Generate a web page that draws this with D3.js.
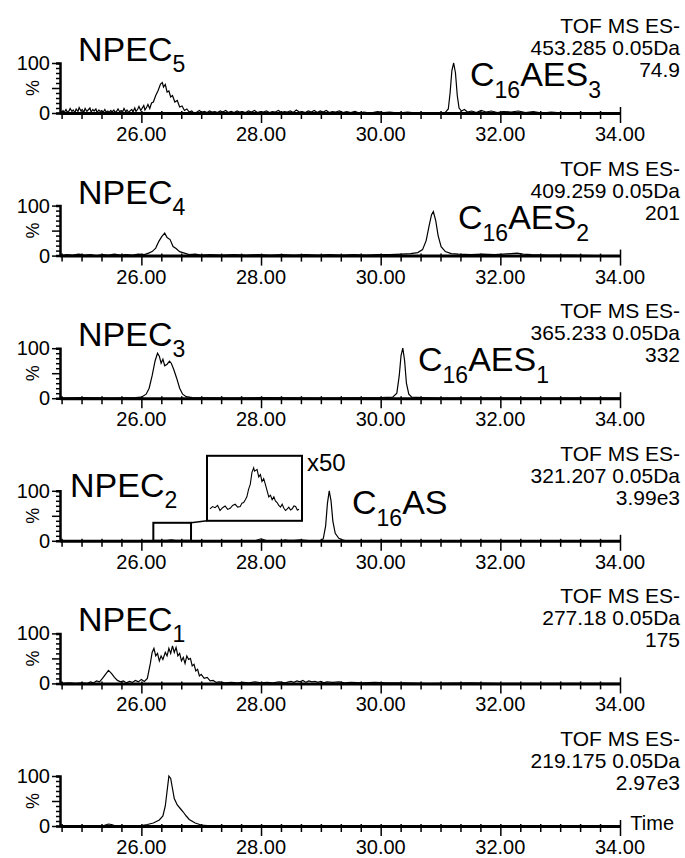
<!DOCTYPE html>
<html>
<head>
<meta charset="utf-8">
<script src="https://cdn.jsdelivr.net/npm/d3@7"></script>
<style>
  body { margin: 0; background: #fff; }
  svg { display: block; }
  text { font-family: "Liberation Sans", Arial, sans-serif; fill: #000; }
</style>
</head>
<body>
<svg id="chart" width="685" height="858"></svg>
<script>
// tick labels on every time axis
const xTickLabels = ["26.00", "28.00", "30.00", "32.00", "34.00"];
const xTickValues = [26, 28, 30, 32, 34];

// header text per trace
const masses = ["453.285", "409.259", "365.233", "321.207", "277.18", "219.175"];
const maxIntensity = ["74.9", "201", "332", "3.99e3", "175", "2.97e3"];

// peak labels
const npecSubs = ["5", "4", "3", "2", "1", null];
const cLabels = [["16", "AES", "3"], ["16", "AES", "2"], ["16", "AES", "1"], ["16", "AS", ""], null, null];

// traces: [time (min), relative intensity %]
const trace1 = [[24.66,0],[24.69,5],[24.71,1],[24.74,7],[24.76,2],[24.79,4],[24.81,9],[24.84,3],[24.86,6],[24.89,1],[24.91,8],[24.94,3],[24.96,11],[24.99,4],[25.01,7],[25.04,2],[25.06,9],[25.09,3],[25.11,6],[25.14,10],[25.16,2],[25.19,7],[25.21,4],[25.24,8],[25.26,1],[25.29,6],[25.31,3],[25.34,5],[25.36,1],[25.39,7],[25.41,2],[25.44,4],[25.46,1],[25.49,5],[25.51,2],[25.54,6],[25.56,1],[25.59,4],[25.61,8],[25.64,2],[25.66,5],[25.69,3],[25.71,9],[25.74,2],[25.76,6],[25.79,1],[25.81,4],[25.84,7],[25.86,2],[25.89,10],[25.91,3],[25.94,8],[25.96,13],[25.99,5],[26.01,9],[26.04,15],[26.06,6],[26.09,12],[26.11,17],[26.14,9],[26.17,20],[26.20,22],[26.24,35],[26.28,45],[26.32,58],[26.35,61],[26.37,52],[26.40,57],[26.43,42],[26.46,44],[26.49,32],[26.52,35],[26.56,22],[26.60,25],[26.64,12],[26.68,14],[26.72,5],[26.76,8],[26.80,2],[26.84,4],[26.88,0],[26.93,2],[26.97,5],[27.01,1],[27.05,3],[27.10,1],[27.14,4],[27.18,2],[27.23,3],[27.27,1],[27.32,4],[27.36,2],[27.41,5],[27.45,1],[27.50,3],[27.55,1],[27.60,4],[27.64,2],[27.69,3],[27.74,1],[27.79,4],[27.84,2],[27.89,5],[27.94,1],[27.99,3],[28.04,2],[28.09,4],[28.14,1],[28.19,3],[28.24,2],[28.29,5],[28.34,1],[28.39,3],[28.44,2],[28.49,4],[28.54,1],[28.59,6],[28.64,2],[28.69,3],[28.74,1],[28.79,4],[28.84,2],[28.89,5],[28.94,1],[28.99,4],[29.04,2],[29.09,5],[29.14,1],[29.19,3],[29.25,2],[29.31,4],[29.37,1],[29.43,3],[29.50,1],[29.57,3],[29.64,0],[29.72,2],[29.82,0],[29.95,3],[30.05,1],[30.15,2],[30.30,0],[30.45,2],[30.60,0],[30.80,1],[30.95,0],[31.08,1],[31.13,8],[31.16,40],[31.19,85],[31.22,100],[31.25,80],[31.28,35],[31.31,10],[31.35,4],[31.40,7],[31.45,2],[31.52,4],[31.60,1],[31.68,5],[31.76,2],[31.85,4],[31.95,1],[32.05,3],[32.18,2],[32.30,4],[32.42,1],[32.55,3],[32.70,0],[32.85,2],[33.05,0],[33.30,1],[33.60,0],[34.00,0]];
const trace2 = [[24.66,0],[24.75,2],[24.85,1],[24.95,3],[25.05,1],[25.15,2],[25.25,0],[25.35,2],[25.45,1],[25.55,3],[25.65,1],[25.75,2],[25.85,1],[25.95,3],[26.05,2],[26.12,5],[26.18,8],[26.24,15],[26.29,28],[26.34,38],[26.39,45],[26.43,36],[26.48,32],[26.53,18],[26.58,14],[26.64,8],[26.72,5],[26.80,2],[26.90,3],[27.00,1],[27.15,2],[27.35,1],[27.55,2],[27.75,1],[27.95,2],[28.15,1],[28.35,2],[28.55,1],[28.75,2],[28.95,1],[29.15,2],[29.35,1],[29.55,2],[29.75,1],[29.95,2],[30.15,2],[30.35,3],[30.50,4],[30.62,6],[30.70,12],[30.76,30],[30.81,60],[30.85,82],[30.88,88],[30.92,70],[30.96,40],[31.01,18],[31.08,8],[31.18,4],[31.30,3],[31.50,2],[31.70,3],[31.90,2],[32.05,3],[32.18,4],[32.28,5],[32.38,3],[32.52,2],[32.80,1],[33.20,1],[33.60,0],[34.00,0]];
const trace3 = [[24.66,0],[25.00,1],[25.50,0],[25.90,1],[26.00,2],[26.08,8],[26.13,20],[26.18,45],[26.23,75],[26.27,90],[26.30,84],[26.33,70],[26.36,78],[26.39,65],[26.43,68],[26.47,74],[26.50,70],[26.54,58],[26.59,40],[26.64,20],[26.69,8],[26.75,3],[26.85,1],[27.50,0],[28.00,1],[29.00,0],[30.00,1],[30.20,2],[30.27,10],[30.31,45],[30.34,85],[30.37,100],[30.40,75],[30.43,30],[30.47,8],[30.52,2],[30.70,1],[31.00,0],[34.00,0]];
const trace4 = [[24.66,0],[26.40,0],[26.45,1],[26.50,2],[26.55,1],[26.60,0],[27.90,0],[27.95,2],[28.00,4],[28.05,2],[28.10,0],[28.35,0],[28.40,2],[28.45,1],[28.55,1],[28.65,2],[28.75,1],[28.85,0],[29.00,0],[29.04,4],[29.08,30],[29.11,75],[29.14,100],[29.17,80],[29.20,40],[29.24,15],[29.30,5],[29.36,2],[29.42,0],[34.00,0]];
const trace5 = [[24.66,0],[24.80,1],[24.90,0],[25.00,1],[25.10,0],[25.15,3],[25.20,1],[25.25,5],[25.30,3],[25.35,10],[25.40,18],[25.45,26],[25.50,20],[25.55,12],[25.60,6],[25.65,3],[25.70,5],[25.75,1],[25.80,4],[25.85,2],[25.90,6],[25.95,3],[26.00,8],[26.05,4],[26.10,10],[26.15,40],[26.18,62],[26.21,70],[26.24,55],[26.27,60],[26.30,45],[26.33,55],[26.36,48],[26.40,62],[26.43,55],[26.46,70],[26.49,60],[26.52,75],[26.55,62],[26.58,72],[26.61,55],[26.64,60],[26.67,45],[26.70,52],[26.73,40],[26.76,55],[26.79,48],[26.82,50],[26.85,35],[26.88,38],[26.91,25],[26.94,28],[26.97,15],[27.00,18],[27.05,10],[27.10,12],[27.15,5],[27.20,6],[27.25,2],[27.30,3],[27.40,1],[27.50,2],[27.60,1],[27.70,2],[27.80,1],[27.90,3],[28.00,1],[28.10,2],[28.20,1],[28.30,3],[28.40,1],[28.50,4],[28.55,2],[28.60,5],[28.65,3],[28.70,6],[28.75,2],[28.80,5],[28.85,3],[28.90,4],[28.95,2],[29.00,4],[29.05,1],[29.10,3],[29.20,2],[29.30,3],[29.40,1],[29.50,2],[29.70,1],[29.90,2],[30.10,1],[30.40,1],[30.80,0],[31.50,1],[32.00,0],[34.00,0]];
const trace6 = [[24.66,0],[25.35,0],[25.40,2],[25.45,4],[25.50,3],[25.55,1],[25.60,0],[25.90,0],[26.00,1],[26.10,3],[26.20,6],[26.30,12],[26.36,20],[26.40,40],[26.43,70],[26.46,100],[26.49,95],[26.52,75],[26.55,55],[26.60,42],[26.65,35],[26.70,28],[26.75,20],[26.80,13],[26.90,6],[27.00,2],[27.10,1],[27.20,0],[34.00,0]];
const traces = [trace1, trace2, trace3, trace4, trace5, trace6];

// x50 inset of trace 4 (26.20 - 26.83 min), intensity relative to inset
const insetTrace = [[26.200,14],[26.218,18],[26.236,16],[26.254,20],[26.271,11],[26.289,16],[26.307,19],[26.325,13],[26.343,15],[26.360,20],[26.378,22],[26.396,17],[26.414,18],[26.426,24],[26.438,25],[26.450,30],[26.461,35],[26.473,48],[26.485,57],[26.497,78],[26.509,86],[26.515,80],[26.521,81],[26.533,83],[26.545,70],[26.557,74],[26.568,62],[26.580,67],[26.592,57],[26.604,46],[26.616,35],[26.628,38],[26.640,30],[26.652,35],[26.663,28],[26.675,25],[26.687,20],[26.699,17],[26.711,22],[26.723,15],[26.735,11],[26.747,14],[26.758,17],[26.770,12],[26.782,14],[26.794,19],[26.806,18],[26.818,12],[26.830,13]];
const insetRange = [26.20, 26.83];

const svg = d3.select("#chart");
const x = d3.scaleLinear().domain([24.64, 34.0]).range([60, 620]);
const panelBase = i => 113 + i * 142.6;
const minorTicks = d3.range(24.6667, 34.01, 1 / 3);

traces.forEach((data, i) => {
    const B = panelBase(i);
    const y = d3.scaleLinear().domain([0, 100]).range([B, B - 50]);
    const g = svg.append("g");

    // header
    const hdr = ["TOF MS ES-", masses[i] + " 0.05Da", maxIntensity[i]];
    hdr.forEach((t, k) => {
        g.append("text").attr("x", 680).attr("y", B - 80 + k * 22)
            .attr("text-anchor", "end").attr("font-size", 21).text(t);
    });

    // trace
    const line = d3.line().x(d => x(d[0])).y(d => y(d[1]));
    g.append("path").datum(data).attr("d", line)
        .attr("fill", "none").attr("stroke", "#000").attr("stroke-width", 1.2);

    // y axis
    const yAxis = d3.axisLeft(y).tickValues(d3.range(0, 101, 10)).tickSizeOuter(0)
        .tickSize(4).tickFormat("");
    const ya = g.append("g").attr("transform", "translate(60,0)").call(yAxis);
    ya.select(".domain").attr("stroke-width", 2.5);
    ya.selectAll(".tick line").attr("stroke-width", 1.5)
        .attr("x2", d => (d % 50 === 0 ? -8 : -4));
    g.append("text").attr("x", 50).attr("y", y(100) + 7).attr("text-anchor", "end")
        .attr("font-size", 20).text("100");
    g.append("text").attr("x", 50).attr("y", y(0) + 7).attr("text-anchor", "end")
        .attr("font-size", 20).text("0");
    g.append("text").attr("transform", `translate(39,${y(50)}) rotate(-90)`)
        .attr("text-anchor", "middle").attr("font-size", 18).text("%");

    // x axis
    const xAxis = d3.axisBottom(x).tickValues(minorTicks).tickSizeOuter(0).tickFormat("");
    const xa = g.append("g").attr("transform", `translate(0,${B})`).call(xAxis);
    xa.select(".domain").attr("stroke-width", 3);
    xa.selectAll(".tick line").attr("stroke-width", 1.5)
        .attr("y1", -2)
        .attr("y2", d => (Math.abs(d - Math.round(d)) < 0.01 && Math.round(d) % 2 === 0 ? 10 : 6));
    xa.selectAll(".tick line").filter(d => Math.abs(d - 34) < 0.01).attr("y1", -6);
    g.selectAll(".xl").data(xTickValues).join("text")
        .attr("x", d => x(d)).attr("y", B + 28).attr("text-anchor", "middle")
        .attr("font-size", 20).text((d, k) => xTickLabels[k]);

    // peak labels
    if (npecSubs[i]) {
        const nx = i === 3 ? 70 : 78;
        const ny = i === 3 ? B - 44 : B - 52;
        const t = g.append("text").attr("x", nx).attr("y", ny).attr("font-size", 34);
        t.append("tspan").text("NPEC");
        t.append("tspan").attr("font-size", 23).attr("dy", 11).text(npecSubs[i]);
    }
    if (cLabels[i]) {
        const cx = [470, 458, 418, 352][i];
        const t = g.append("text").attr("x", cx).attr("y", B - 27).attr("font-size", 34);
        t.append("tspan").text("C");
        t.append("tspan").attr("font-size", 23).attr("dy", 12).text(cLabels[i][0]);
        t.append("tspan").attr("dy", -12).text(cLabels[i][1]);
        if (cLabels[i][2]) t.append("tspan").attr("font-size", 23).attr("dy", 12).text(cLabels[i][2]);
    }

    // x50 inset on the NPEC2 trace
    if (i === 3) {
        const bx0 = x(insetRange[0]), bx1 = x(insetRange[1]);
        g.append("rect").attr("x", bx0).attr("y", B - 18).attr("width", bx1 - bx0).attr("height", 18)
            .attr("fill", "none").attr("stroke", "#000").attr("stroke-width", 2);
        const ix0 = 207, ix1 = 302, iy0 = B - 85, iy1 = B - 20;
        g.append("rect").attr("x", ix0).attr("y", iy0).attr("width", ix1 - ix0).attr("height", iy1 - iy0)
            .attr("fill", "none").attr("stroke", "#000").attr("stroke-width", 2);
        g.append("line").attr("x1", bx1).attr("y1", B - 18).attr("x2", ix0).attr("y2", iy1)
            .attr("stroke", "#000").attr("stroke-width", 1.5);
        const ixs = d3.scaleLinear().domain(insetRange).range([ix0 + 3, ix1 - 3]);
        const iys = d3.scaleLinear().domain([0, 100]).range([iy1 - 4, iy0 + 4]);
        g.append("path").datum(insetTrace)
            .attr("d", d3.line().x(d => ixs(d[0])).y(d => iys(d[1])))
            .attr("fill", "none").attr("stroke", "#000").attr("stroke-width", 1.1);
        g.append("text").attr("x", 307).attr("y", iy0 + 15).attr("font-size", 24).text("x50");
    }

    if (i === 5) {
        g.append("text").attr("x", 674).attr("y", B + 4).attr("text-anchor", "end")
            .attr("font-size", 20).text("Time");
    }
});
</script>
</body>
</html>
